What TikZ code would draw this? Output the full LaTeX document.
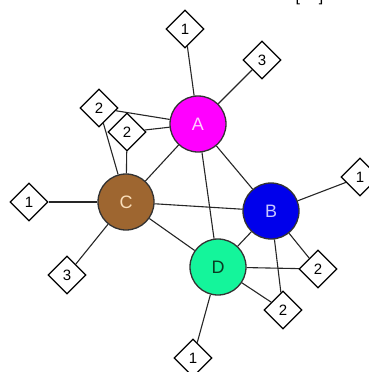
\documentclass[tikz,border=0pt]{standalone}
\usepackage{fontspec}
\setmainfont{Liberation Sans}
\usetikzlibrary{shapes.geometric}
\definecolor{cA}{RGB}{255,0,255}
\definecolor{cB}{RGB}{0,0,235}
\definecolor{cC}{RGB}{158,102,48}
\definecolor{cD}{RGB}{20,245,155}
\definecolor{tA}{RGB}{255,205,255}
\definecolor{tB}{RGB}{200,200,255}
\definecolor{tC}{RGB}{250,222,185}
\definecolor{tD}{RGB}{10,60,35}
\begin{document}
\begin{tikzpicture}[x=1pt,y=-1pt,
  circ/.style={circle,draw=black!80,line width=1.3pt,minimum size=56pt,inner sep=0pt,font=\fontsize{18}{18}\selectfont},
  dia/.style={diamond,draw=black,line width=1.2pt,fill=white,minimum width=38pt,minimum height=38pt,inner sep=0pt,font=\fontsize{15}{15}\selectfont},
  edge/.style={draw=black!85,line width=1.1pt}]
\useasboundingbox (0,0) rectangle (369,372);
\begin{scope}
\clip (0,0) rectangle (369,372);
\node[anchor=base,font=\fontsize{16}{16}\selectfont] (br) at (309.5,1.6) {[\hspace{19pt}]};
\end{scope}
% diamonds
\node[dia] (a1) at (185,29) {1};
\node[dia] (a3) at (262,60) {3};
\node[dia] (o2) at (99,108) {2};
\node[dia] (i2) at (127,132) {2};
\node[dia] (b1) at (360,177) {1};
\node[dia] (c1) at (29,202) {1};
\node[dia] (c3) at (67,275) {3};
\node[dia] (r2) at (318,269) {2};
\node[dia] (m2) at (283,310) {2};
\node[dia] (d1) at (193,358) {1};
% circles
\node[circ,fill=cA,text=tA] (A) at (198,124) {A};
\node[circ,fill=cB,text=tB] (B) at (271,211) {B};
\node[circ,fill=cC,text=tC] (C) at (126,202) {C};
\node[circ,fill=cD,text=tD] (D) at (218,267) {D};
% edges
\path[edge] (A) -- (a1);
\path[edge] (A) -- (a3);
\path[edge] (A) -- (o2);
\path[edge] (A) -- (i2);
\path[edge] (A) -- (C);
\path[edge] (A) -- (B);
\path[edge] (A) -- (D);
\path[edge] (C) -- (o2);
\path[edge] (C) -- (i2);
\path[edge] (C) -- (c1);
\path[edge] (C) -- (c3);
\path[edge] (C) -- (B);
\path[edge] (C) -- (D);
\path[edge] (B) -- (b1);
\path[edge] (B) -- (D);
\path[edge] (B) -- (r2);
\path[edge] (B) -- (m2);
\path[edge] (D) -- (r2);
\path[edge] (D) -- (m2);
\path[edge] (D) -- (d1);
\end{tikzpicture}
\end{document}
